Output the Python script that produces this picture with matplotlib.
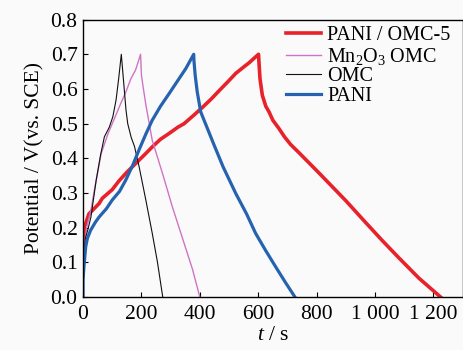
import matplotlib
matplotlib.use("Agg")
import matplotlib.pyplot as plt

plt.rcParams['font.family'] = ['Liberation Serif', 'DejaVu Serif']
plt.rcParams['mathtext.fontset'] = 'custom'
plt.rcParams['mathtext.rm'] = 'Liberation Serif'
plt.rcParams['mathtext.it'] = 'Liberation Serif:italic'

# PANI / OMC-5
red_t = [0, 2, 5, 10, 20, 32, 55, 66, 100, 123, 150, 180, 210, 237, 265, 295, 325, 346, 380, 409, 440,
         466, 495, 523, 551, 568, 585, 601, 603, 606, 614, 626, 637, 650, 671, 690, 711, 740, 774, 808,
         854, 900, 968, 1025, 1082, 1150, 1225]
red_y = [0.13, 0.17, 0.20, 0.215, 0.24, 0.25, 0.27, 0.285, 0.31, 0.335, 0.36, 0.385, 0.41, 0.433, 0.455,
         0.472, 0.49, 0.50, 0.525, 0.547, 0.572, 0.595, 0.62, 0.645, 0.664, 0.675, 0.688, 0.70, 0.67,
         0.63, 0.582, 0.55, 0.534, 0.51, 0.486, 0.462, 0.44, 0.416, 0.387, 0.358, 0.318, 0.278, 0.215,
         0.163, 0.113, 0.055, 0.0]

# Mn2O3 OMC
pink_t = [0, 2, 5, 12, 27, 39, 62, 85, 100, 115, 130, 146, 164, 180, 197, 200, 205, 215, 237, 272, 306,
          352, 375, 400]
pink_y = [0.05, 0.10, 0.15, 0.20, 0.25, 0.31, 0.414, 0.47, 0.50, 0.53, 0.56, 0.59, 0.63, 0.655, 0.70,
          0.64, 0.61, 0.555, 0.452, 0.357, 0.26, 0.14, 0.08, 0.0]

# OMC
black_t = [0, 3, 8, 16, 27, 45, 60, 73, 90, 102, 113, 122, 131, 137, 141, 147, 153, 165, 176, 192, 215,
           237, 255, 273]
black_y = [0.0, 0.12, 0.17, 0.193, 0.231, 0.337, 0.41, 0.462, 0.49, 0.52, 0.568, 0.63, 0.70, 0.64, 0.60,
           0.54, 0.50, 0.46, 0.435, 0.376, 0.28, 0.184, 0.10, 0.0]

# PANI
blue_t = [0, 0, 3, 9, 15, 26, 43, 55, 80, 100, 125, 146, 170, 192, 215, 237, 265, 295, 325, 352, 379,
          380, 384, 391, 403, 426, 449, 480, 523, 560, 591, 625, 660, 695, 726]
blue_y = [0.0, 0.05, 0.087, 0.145, 0.17, 0.193, 0.217, 0.231, 0.255, 0.28, 0.305, 0.337, 0.38, 0.425,
          0.47, 0.51, 0.55, 0.587, 0.625, 0.659, 0.70, 0.68, 0.64, 0.592, 0.534, 0.486, 0.438, 0.375,
          0.299, 0.24, 0.184, 0.135, 0.087, 0.04, 0.0]

labels = ['PANI / OMC-5', 'Mn$_2$O$_3$ OMC', 'OMC', 'PANI']
xticks = [0, 200, 400, 600, 800, 1000, 1200]
xticklabels = ['0', '200', '400', '600', '800', '1 000', '1 200']
yticks = [0.0, 0.1, 0.2, 0.3, 0.4, 0.5, 0.6, 0.7, 0.8]

fig = plt.figure(figsize=(4.64, 3.5), dpi=100)
fig.patch.set_facecolor('#fafafa')
ax = fig.add_axes([0.179, 0.151, 0.818, 0.793])
ax.set_facecolor('#fafafa')

ax.plot(red_t, red_y, color='#e8222b', lw=2.6, label=labels[0])
ax.plot(pink_t, pink_y, color='#cf74c4', lw=1.0, label=labels[1])
ax.plot(black_t, black_y, color='#111111', lw=0.8, label=labels[2])
ax.plot(blue_t, blue_y, color='#2563b0', lw=2.3, label=labels[3])

ax.set_xlim(0, 1300)
ax.set_ylim(0, 0.8)
ax.set_xticks(xticks)
ax.set_xticklabels(xticklabels)
ax.set_yticks(yticks)
ax.set_yticklabels([f'{v:.1f}' for v in yticks])
ax.tick_params(direction='in', length=3.6, width=0.8, labelsize=15.5, pad=4)
ax.tick_params(axis='x', pad=6)
for s in ax.spines.values():
    s.set_linewidth(1.0)

ax.set_xlabel('$t$ / s', fontsize=15.5, labelpad=1)
ax.set_ylabel('Potential / V(vs. SCE)', fontsize=15.5, labelpad=4)

leg = ax.legend(loc='upper right', bbox_to_anchor=(1.0, 1.02), frameon=False, fontsize=14.5,
                handlelength=1.75, handletextpad=0.3, labelspacing=0.02, borderaxespad=0.2)

fig.savefig('out.png', dpi=100, facecolor=fig.get_facecolor())
